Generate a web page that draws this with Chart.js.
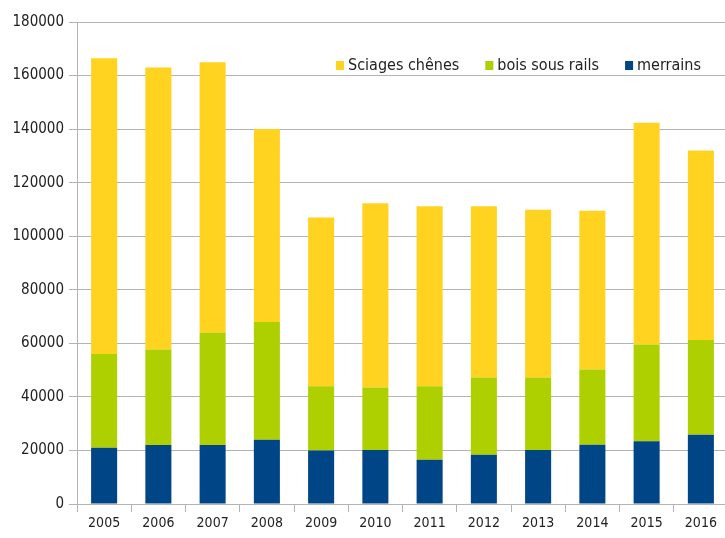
<!DOCTYPE html>
<html>
<head>
<meta charset="utf-8">
<script src="https://cdn.jsdelivr.net/npm/chart.js@4/dist/chart.umd.min.js"></script>
<style>
html, body { margin: 0; padding: 0; background: #fff; overflow: hidden; }
#wrap { width: 728px; height: 538px; }
</style>
</head>
<body>
<div id="wrap"><canvas id="chart"></canvas></div>
<script>
// Years and tonnages
const years = ['2005', '2006', '2007', '2008', '2009', '2010', '2011', '2012', '2013', '2014', '2015', '2016'];
const merrains = [21000, 22000, 22000, 24000, 20000, 20200, 16500, 18400, 20200, 22100, 23400, 25900];
const boisSousRails = [35000, 35700, 42000, 44000, 24000, 23300, 27500, 28800, 27000, 28100, 36200, 35300];
const sciagesChenes = [110500, 105300, 101000, 72000, 63000, 68800, 67200, 64000, 62700, 59300, 82800, 70800];
const yTicks = [0, 20000, 40000, 60000, 80000, 100000, 120000, 140000, 160000, 180000];

const FONT = '"DejaVu Sans Condensed", "Liberation Sans", sans-serif';
const GRID = '#b3b3b3';

// Legend drawn inside the plot, top right, like the original
const insideLegend = {
  id: 'insideLegend',
  afterDraw(chart) {
    const c = chart.ctx;
    const items = [2, 1, 0].map((i) => chart.data.datasets[i]);
    c.save();
    c.font = '16px ' + FONT;
    c.textBaseline = 'middle';
    c.textAlign = 'left';
    let x = 336;
    const y = 65.5;
    items.forEach((ds) => {
      c.fillStyle = ds.backgroundColor;
      c.fillRect(x, y - 4.5, 8, 9);
      c.fillStyle = '#222';
      c.fillText(ds.label, x + 12, y);
      x += 12 + c.measureText(ds.label).width + 26;
    });
    c.restore();
  }
};

new Chart(document.getElementById('chart'), {
  type: 'bar',
  data: {
    labels: years,
    datasets: [
      { label: 'merrains', data: merrains, backgroundColor: '#004586' },
      { label: 'bois sous rails', data: boisSousRails, backgroundColor: '#aecf00' },
      { label: 'Sciages chênes', data: sciagesChenes, backgroundColor: '#ffd320' }
    ]
  },
  options: {
    responsive: true,
    maintainAspectRatio: false,
    animation: false,
    events: [],
    layout: { padding: { top: 22, right: 0, left: 0, bottom: 0 } },
    datasets: { bar: { categoryPercentage: 1, barPercentage: 0.48 } },
    plugins: {
      legend: { display: false },
      tooltip: { enabled: false }
    },
    scales: {
      x: {
        stacked: true,
        afterFit(scale) { scale.height = 34; },
        grid: { drawOnChartArea: false, drawTicks: true, tickLength: 8, color: GRID, offset: true },
        border: { display: true, color: GRID },
        ticks: { color: '#222', font: { family: FONT, size: 14 }, padding: 3, maxRotation: 0, autoSkip: false }
      },
      y: {
        stacked: true,
        min: 0,
        max: 180000,
        afterFit(scale) { scale.width = 77; },
        afterBuildTicks(scale) { scale.ticks = yTicks.map((v) => ({ value: v })); },
        grid: { color: GRID, tickLength: 8, lineWidth: 1 },
        border: { display: true, color: GRID },
        ticks: { color: '#222', font: { family: FONT, size: 15 }, padding: 5, callback: (v) => String(v) }
      }
    }
  },
  plugins: [insideLegend]
});
</script>
</body>
</html>
